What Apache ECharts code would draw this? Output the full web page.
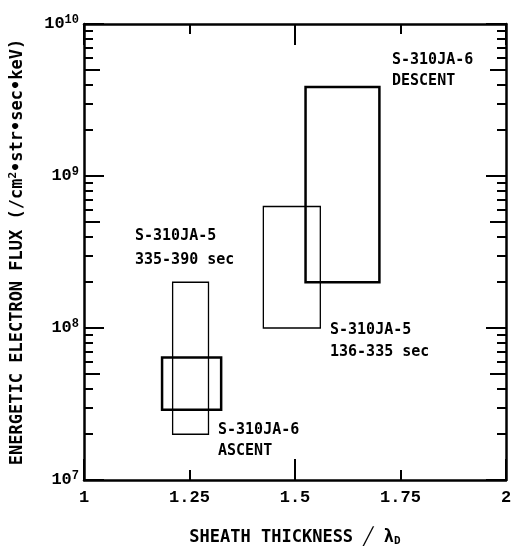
<!DOCTYPE html>
<html>
<head>
<meta charset="utf-8">
<script src="https://cdn.jsdelivr.net/npm/echarts@6/dist/echarts.min.js"></script>
<style>
  html, body { margin: 0; padding: 0; background: #fff; }
  #chart { width: 511px; height: 546px; }
</style>
</head>
<body>
<div id="chart"></div>
<script>
// boxes: [xFrom, xTo, fluxLow, fluxHigh]
const ja6Boxes = [
  [1.525, 1.70, 2.0e8, 3.85e9],   // S-310JA-6 descent
  [1.185, 1.325, 2.9e7, 6.4e7]    // S-310JA-6 ascent
]
const ja5Boxes = [
  [1.425, 1.56, 1.0e8, 6.3e8],    // S-310JA-5 136-335 sec
  [1.21, 1.295, 2.0e7, 2.0e8]     // S-310JA-5 335-390 sec
]

const xLabels = [1, 1.25, 1.5, 1.75, 2]
const decades = [1e7, 1e8, 1e9, 1e10]
const fives = [5e7, 5e8, 5e9]
const minors = [2, 3, 4, 6, 7, 8, 9].flatMap(k => [k * 1e7, k * 1e8, k * 1e9])

const annotations = [
  { x: 392, y: 62, text: 'S-310JA-6' },
  { x: 392, y: 83, text: 'DESCENT' },
  { x: 135, y: 238, text: 'S-310JA-5' },
  { x: 135, y: 262, text: '335-390 sec' },
  { x: 330, y: 332, text: 'S-310JA-5' },
  { x: 330, y: 354, text: '136-335 sec' },
  { x: 218, y: 432, text: 'S-310JA-6' },
  { x: 218, y: 453, text: 'ASCENT' }
]

const monoFont = 'DejaVu Sans Mono'
const tickFont = 'Liberation Mono'

const chart = echarts.init(document.getElementById('chart'), null, { renderer: 'canvas' })

const xAxisBase = (pos, withLabels) => ({
  type: 'value',
  position: pos,
  min: 1,
  max: 2,
  interval: 0.5,
  axisLine: { show: true, onZero: false, lineStyle: { color: '#000', width: 2.5 } },
  axisTick: { show: true, inside: true, length: 21, lineStyle: { color: '#000', width: 2 } },
  minorTick: { show: true, splitNumber: 2, length: 10, lineStyle: { color: '#000', width: 2 } },
  splitLine: { show: false },
  minorSplitLine: { show: false },
  axisLabel: withLabels ? {
    show: true,
    customValues: xLabels,
    margin: 9,
    color: '#000',
    fontFamily: tickFont,
    fontWeight: 'bold',
    fontSize: 17
  } : { show: false },
  name: withLabels ? 'SHEATH THICKNESS \u2571 \u03bb{sub|D}' : '',
  nameLocation: 'middle',
  nameGap: 48,
  nameTextStyle: {
    color: '#000',
    fontFamily: monoFont,
    fontWeight: 'bold',
    fontSize: 17,
    rich: {
      sub: { fontFamily: monoFont, fontWeight: 'bold', fontSize: 11, padding: [8, 0, 0, 0], color: '#000' }
    }
  }
})

const yAxisBase = (pos, ticks, len, withLabels) => ({
  type: 'log',
  logBase: 10,
  position: pos,
  min: 1e7,
  max: 1e10,
  axisLine: { show: withLabels !== undefined, onZero: false, lineStyle: { color: '#000', width: 2.5 } },
  axisTick: { show: true, inside: true, length: len, customValues: ticks, lineStyle: { color: '#000', width: 2 } },
  splitLine: { show: false },
  axisLabel: withLabels ? {
    show: true,
    customValues: decades,
    margin: 5,
    color: '#000',
    fontFamily: tickFont,
    fontWeight: 'bold',
    fontSize: 17,
    formatter: v => '10{sup|' + Math.round(Math.log10(v)) + '}',
    rich: {
      sup: { fontFamily: tickFont, fontWeight: 'bold', fontSize: 12, padding: [0, 0, 9, 0], color: '#000' }
    }
  } : { show: false },
  name: withLabels ? 'ENERGETIC ELECTRON FLUX (/cm{sup|2}\u2022str\u2022sec\u2022keV)' : '',
  nameLocation: 'middle',
  nameRotate: 90,
  nameGap: 57,
  nameTextStyle: {
    color: '#000',
    fontFamily: monoFont,
    fontWeight: 'bold',
    fontSize: 17,
    rich: {
      sup: { fontFamily: monoFont, fontWeight: 'bold', fontSize: 11, padding: [0, 0, 8, 0], color: '#000' }
    }
  }
})

const boxSeries = (data, width) => ({
  type: 'custom',
  xAxisIndex: 0,
  yAxisIndex: 0,
  encode: { x: [0, 1], y: [2, 3] },
  data: data,
  renderItem: (params, api) => {
    const p0 = api.coord([api.value(0), api.value(2)])
    const p1 = api.coord([api.value(1), api.value(3)])
    return {
      type: 'rect',
      shape: { x: p0[0], y: p1[1], width: p1[0] - p0[0], height: p0[1] - p1[1] },
      style: { fill: 'none', stroke: '#000', lineWidth: width }
    }
  }
})

const option = {
  animation: false,
  backgroundColor: '#fff',
  grid: { left: 84, right: 5, top: 24, bottom: 66, containLabel: false, outerBoundsMode: 'none' },
  xAxis: [xAxisBase('bottom', true), xAxisBase('top', false)],
  yAxis: [
    yAxisBase('left', decades, 20, true),
    yAxisBase('right', decades, 20, false),
    yAxisBase('left', fives, 16),
    yAxisBase('right', fives, 16),
    yAxisBase('left', minors, 9),
    yAxisBase('right', minors, 9)
  ],
  graphic: annotations.map(a => ({
    type: 'text',
    left: a.x,
    top: a.y - 9,
    style: {
      text: a.text,
      fill: '#000',
      font: 'bold 15px "' + monoFont + '"'
    }
  })),
  series: [
    boxSeries(ja6Boxes, 2.5),
    boxSeries(ja5Boxes, 1.3)
  ]
}

chart.setOption(option)
</script>
</body>
</html>
